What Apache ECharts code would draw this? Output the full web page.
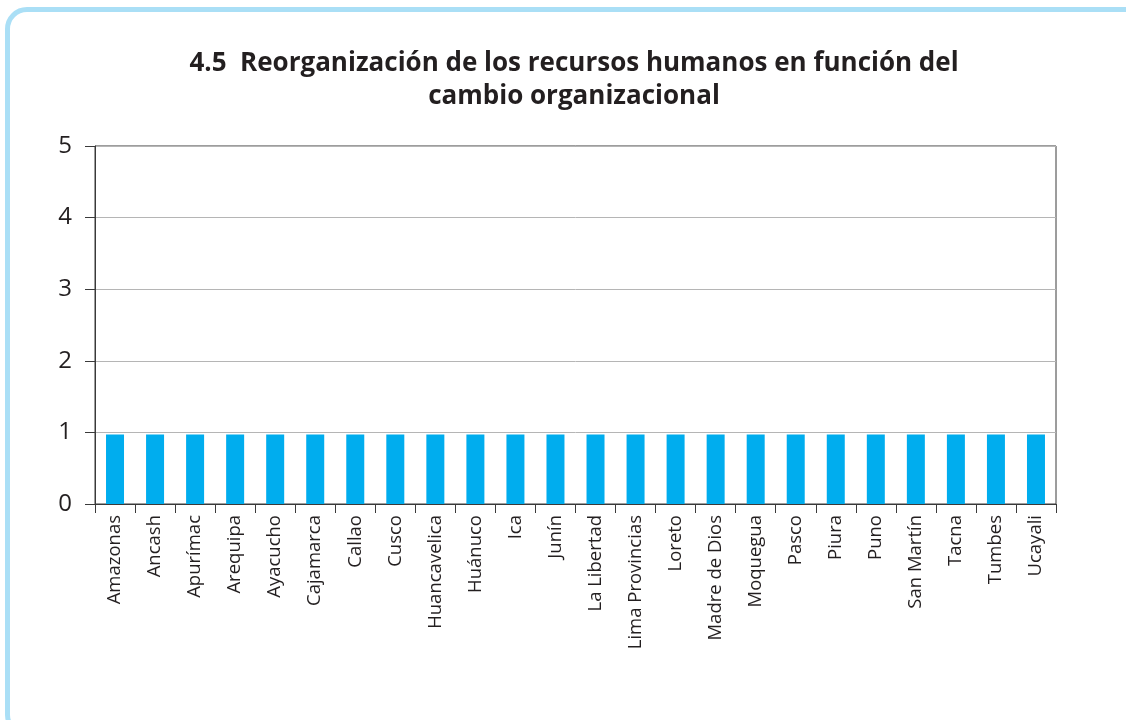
<!DOCTYPE html>
<html>
<head>
<meta charset="utf-8">
<script src="https://cdn.jsdelivr.net/npm/echarts@6/dist/echarts.min.js"></script>
<style>
  html, body { margin: 0; padding: 0; background: #fff; overflow: hidden; }
  #frame {
    position: absolute; left: 5px; top: 7px; width: 1150px; height: 730px;
    border: 5px solid #aadff6; border-radius: 22px; box-sizing: border-box;
  }
  #chart { position: absolute; left: 0; top: 0; width: 1126px; height: 720px; }
</style>
</head>
<body>
<div id="frame"></div>
<div id="chart"></div>
<script>
// regiones
var categories = ['Amazonas', 'Ancash', 'Apurímac', 'Arequipa', 'Ayacucho', 'Cajamarca', 'Callao',
  'Cusco', 'Huancavelica', 'Huánuco', 'Ica', 'Junín', 'La Libertad', 'Lima Provincias', 'Loreto',
  'Madre de Dios', 'Moquegua', 'Pasco', 'Piura', 'Puno', 'San Martín', 'Tacna', 'Tumbes', 'Ucayali'];
var values = [0.97, 0.97, 0.97, 0.97, 0.97, 0.97, 0.97, 0.97, 0.97, 0.97, 0.97, 0.97,
  0.97, 0.97, 0.97, 0.97, 0.97, 0.97, 0.97, 0.97, 0.97, 0.97, 0.97, 0.97];
var yTicks = [0, 1, 2, 3, 4, 5];

var dom = document.getElementById('chart');
var myChart = echarts.init(dom);
var font = '"Open Sans", "Noto Sans", sans-serif';

var option = {
  animation: false,
  title: {
    text: '4.5  Reorganización de los recursos humanos en función del\ncambio organizacional',
    left: 569,
    top: 42,
    textAlign: 'center',
    textStyle: { fontFamily: font, fontSize: 26, fontWeight: 'bold', color: '#231f20', lineHeight: 33 }
  },
  grid: {
    left: 95, right: 70, top: 146, bottom: 216,
    show: true, borderColor: '#3a3a3a', borderWidth: 1
  },
  xAxis: {
    type: 'category',
    data: categories,
    axisLine: { lineStyle: { color: '#3a3a3a', width: 1 } },
    axisTick: { show: true, length: 9, lineStyle: { color: '#3a3a3a' } },
    axisLabel: { rotate: 90, interval: 0, margin: 11, fontFamily: font, fontSize: 18.5, color: '#231f20' }
  },
  yAxis: {
    type: 'value',
    min: yTicks[0],
    max: yTicks[yTicks.length - 1],
    interval: 1,
    axisLine: { show: true, lineStyle: { color: '#3a3a3a', width: 1 } },
    axisTick: { show: true, length: 10, lineStyle: { color: '#3a3a3a' } },
    axisLabel: { margin: 23, fontFamily: font, fontSize: 24, color: '#231f20' },
    splitLine: { lineStyle: { color: '#b5b5b5', width: 1 } }
  },
  series: [{
    type: 'bar',
    data: values,
    barWidth: 18,
    itemStyle: { color: '#00adee' }
  }]
};

myChart.setOption(option);
</script>
</body>
</html>
